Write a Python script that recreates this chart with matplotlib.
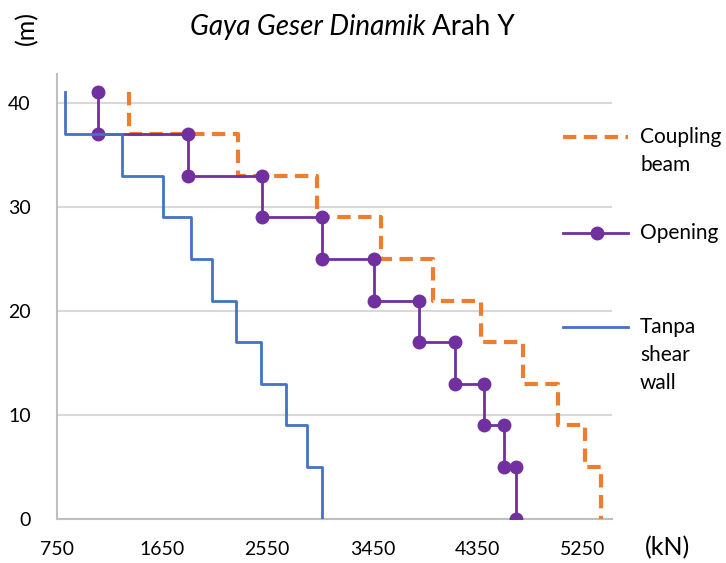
import numpy as np
import matplotlib
matplotlib.use('Agg')
import matplotlib.pyplot as plt
from matplotlib.lines import Line2D

plt.rcParams['font.family'] = ['Lato', 'DejaVu Sans']

# story boundaries (m), top to bottom
levels = [41, 37, 33, 29, 25, 21, 17, 13, 9, 5, 0]

# shear per story (kN), top story first
coupling = [1367, 2301, 2979, 3519, 3964, 4376, 4736, 5036, 5267, 5404]
opening = [1101, 1873, 2507, 3021, 3467, 3844, 4153, 4401, 4573, 4676]
tanpa = [819, 1307, 1659, 1899, 2079, 2284, 2499, 2713, 2893, 3021]

xticks = [750, 1650, 2550, 3450, 4350, 5250]
yticks = [0, 10, 20, 30, 40]


def stairs(vals):
    xs = np.repeat(vals, 2)
    ys = np.column_stack([levels[:-1], levels[1:]]).ravel()
    return xs, ys


fig = plt.figure(figsize=(7.26, 5.63), dpi=100)
ax = fig.add_axes([0.0785, 0.078, 0.7645, 0.791])

styles = [
    (coupling, dict(color='#ED7D31', lw=3, dashes=(3.2, 1.8)), ['Coupling', 'beam']),
    (opening, dict(color='#7030A0', lw=2, marker='o', ms=9), ['Opening']),
    (tanpa, dict(color='#4472C4', lw=2), ['Tanpa', 'shear', 'wall']),
]
for z, (vals, kw, _) in enumerate(styles):
    x, y = stairs(vals)
    ax.plot(x, y, zorder=3 + z, **kw)

ax.set_xlim(750, 5500)
ax.set_ylim(0, 42.8)
ax.set_xticks(xticks)
ax.set_yticks(yticks)
ax.tick_params(length=0, labelsize=14, colors='#000000')
ax.tick_params(axis='x', pad=16)
ax.tick_params(axis='y', pad=19)
ax.grid(axis='y', color='#d9d9d9', lw=1.5)
ax.set_axisbelow(True)
for s in ['top', 'right']:
    ax.spines[s].set_visible(False)
for s in ['left', 'bottom']:
    ax.spines[s].set_color('#bfbfbf')
    ax.spines[s].set_linewidth(1.5)

fig.text(0.586, 0.952, 'Gaya Geser Dinamik', fontsize=20, style='italic', ha='right', va='center')
fig.text(0.595, 0.952, 'Arah Y', fontsize=20, ha='left', va='center')
fig.text(0.037, 0.951, '(m)', fontsize=18, rotation=90, ha='center', va='center')
fig.text(0.919, 0.027, '(kN)', fontsize=18, ha='center', va='center')

# legend drawn by hand: key aligned with first text line, as in the original
key_y = [137, 233, 327]
for (vals, kw, lines), yk in zip(styles, key_y):
    yf = 1 - yk / 563
    kw2 = dict(kw)
    kw2.pop('marker', None)
    fig.add_artist(Line2D([563 / 726, 628 / 726], [yf, yf], transform=fig.transFigure, **kw2))
    if 'marker' in kw:
        fig.add_artist(Line2D([597 / 726], [yf], transform=fig.transFigure, marker='o',
                              ms=9, color=kw['color'], lw=0))
    for i, t in enumerate(lines):
        fig.text(640 / 726, 1 - (yk + 28 * i) / 563, t, fontsize=15, ha='left', va='center')

fig.savefig('out.png', dpi=100)
